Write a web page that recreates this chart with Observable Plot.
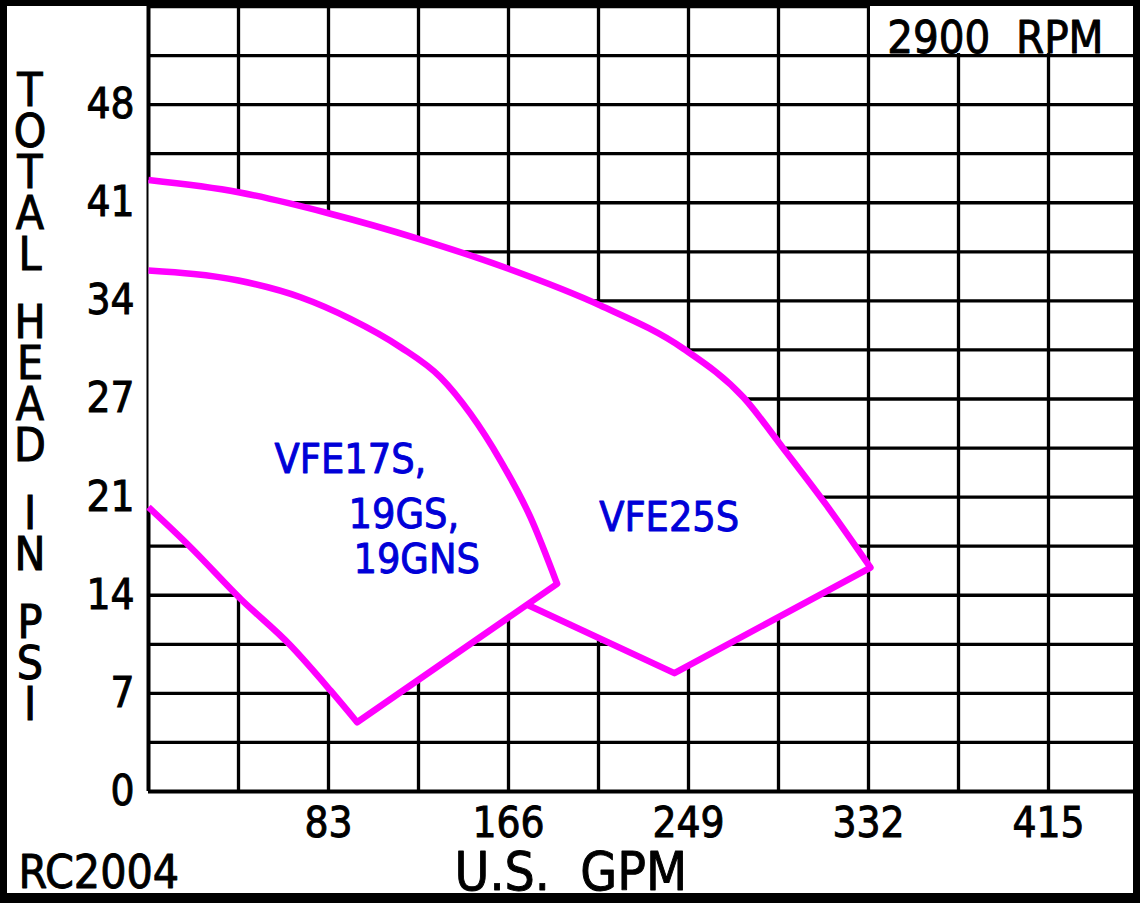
<!DOCTYPE html>
<html><head><meta charset="utf-8">
<script src="https://cdn.jsdelivr.net/npm/d3@7"></script>
<script src="https://cdn.jsdelivr.net/npm/@observablehq/plot@0.6"></script>
<style>
html,body{margin:0;padding:0;background:#fff;}
#wrap{position:relative;width:1140px;height:903px;overflow:hidden;background:#fff;}
#chart{position:absolute;left:0;top:0;}
#frame{position:absolute;left:0;top:0;width:1140px;height:903px;box-sizing:border-box;border:solid #000;border-width:6px 7px 10px 7px;pointer-events:none;}
#ytitle{position:absolute;left:10px;top:70px;width:40px;font-family:"DejaVu Sans Condensed","Liberation Sans Narrow","DejaVu Sans",sans-serif;font-size:46px;color:#000;text-align:center;-webkit-text-stroke:1px #000;}
#ytitle div{height:41px;line-height:41px;}
#ytitle div.sp{height:27px;}
#chart svg g[aria-label$="tick label"] text{stroke:#000;stroke-width:0.9px;}
</style></head><body>
<div id="wrap"><div id="chart"></div><div id="ytitle"></div><div id="frame"></div></div>
<script>
// ---- data ----
const gpmTicks = [83, 166, 249, 332, 415];
const gpmGrid = [0, 41.5, 83, 124.5, 166, 207.5, 249, 290.5, 332, 373.5, 415];
const gpmMax = 456.5;
const psiTickValues = [0, 6.857, 13.714, 20.571, 27.429, 34.286, 41.143, 48];
const psiTickLabels = ["0", "7", "14", "21", "27", "34", "41", "48"];
const psiGrid = [0, 3.429, 6.857, 10.286, 13.714, 17.143, 20.571, 24, 27.429, 30.857, 34.286, 37.714, 41.143, 44.571, 48, 51.429, 54.857];
const psiMax = 54.857;

// VFE25S envelope (GPM, PSI)
const vfe25sTop = [[0, 42.73], [41.5, 41.88], [83, 40.41], [124.5, 38.62], [166, 36.53], [208.4, 33.96], [246.7, 30.94], [274.4, 27.53], [292.4, 24.04], [312.7, 19.99], [332.9, 15.65]];
const vfe25sBottom = [[332.9, 15.65], [242.5, 8.27], [175.4, 13.0]];

// VFE17S, 19GS, 19GNS envelope (GPM, PSI)
const vfe17sTop = [[0, 36.41], [41.5, 35.71], [70.1, 34.54], [93.1, 33.03], [116.2, 31.05], [134.6, 28.95], [148.5, 26.39], [162.3, 23.13], [176.1, 19.17], [188.4, 14.51]];
const vfe17sRight = [[188.4, 14.51], [96.2, 4.84]];
const vfe17sLeft = [[0, 19.87], [19.4, 17.07], [42.4, 13.47], [65.5, 10.20], [83.9, 7.06], [96.2, 4.84]];

const modelLabels = [
  {text: "VFE17S,", gpm: 58.1, psi: 23.2},
  {text: "19GS,", gpm: 92.2, psi: 19.35},
  {text: "19GNS", gpm: 94.5, psi: 16.2},
  {text: "VFE25S", gpm: 207.8, psi: 19.1}
];
const rpmText = "2900\u00a0\u00a0RPM";
const xTitle = "U.S.\u00a0\u00a0GPM";
const yTitle = "TOTAL HEAD IN PSI";
const codeText = "RC2004";

// ---- drawing ----
const FONT = '"DejaVu Sans Condensed", "Liberation Sans Narrow", "DejaVu Sans", sans-serif';
const MAG = "#ff00ff";
const BLUE = "#0000d8";
const X = d => d[0], Y = d => d[1];

const outerFill = [...vfe25sTop, ...vfe25sBottom.slice(1), [188.4, 14.51], ...vfe17sTop.slice().reverse()];
const innerFill = [...vfe17sTop, ...vfe17sRight.slice(1), ...vfe17sLeft.slice(0, -1).reverse()];

const rpmBox = [{x1: gpmGrid[8], x2: gpmMax, y1: psiGrid[15], y2: psiGrid[16]}];
const TS = {stroke: "#000", strokeWidth: 0.9, paintOrder: "normal"};

const chart = Plot.plot({
  width: 1140, height: 903,
  marginLeft: 148, marginRight: 2, marginTop: 6, marginBottom: 112,
  style: {fontFamily: FONT, fontSize: "42px", color: "#000", background: "#fff", overflow: "visible"},
  x: {domain: [0, gpmMax], ticks: gpmTicks, tickSize: 0, tickPadding: 16, label: null, tickFormat: d => String(d)},
  y: {domain: [0, psiMax], ticks: psiTickValues, tickSize: 0, tickPadding: 14, label: null,
      tickFormat: d => psiTickLabels[psiTickValues.indexOf(d)]},
  marks: [
    Plot.ruleX(gpmGrid.slice(1), {stroke: "#000", strokeWidth: 3.3}),
    Plot.ruleY(psiGrid.slice(1), {stroke: "#000", strokeWidth: 3.3}),
    Plot.ruleX([0], {stroke: "#000", strokeWidth: 4}),
    Plot.ruleY([0], {stroke: "#000", strokeWidth: 4}),
    Plot.rect(rpmBox, {x1: "x1", x2: "x2", y1: "y1", y2: "y2", fill: "#fff", insetLeft: 2, insetBottom: 2}),
    // VFE25S
    Plot.line(outerFill, {x: X, y: Y, fill: "#fff", stroke: "none"}),
    Plot.line(vfe25sTop, {x: X, y: Y, curve: "monotone-x", stroke: MAG, strokeWidth: 6.5, strokeLinecap: "butt"}),
    Plot.line(vfe25sBottom, {x: X, y: Y, stroke: MAG, strokeWidth: 6.5, strokeLinecap: "round", strokeLinejoin: "round"}),
    // VFE17S
    Plot.line(innerFill, {x: X, y: Y, fill: "#fff", stroke: "none"}),
    Plot.line(vfe17sTop, {x: X, y: Y, curve: "monotone-x", stroke: MAG, strokeWidth: 6.5, strokeLinecap: "butt"}),
    Plot.line(vfe17sRight, {x: X, y: Y, stroke: MAG, strokeWidth: 6.5, strokeLinecap: "round"}),
    Plot.line(vfe17sLeft, {x: X, y: Y, curve: "monotone-x", stroke: MAG, strokeWidth: 6.5, strokeLinecap: "butt"}),
    // labels
    Plot.text(modelLabels, {x: "gpm", y: "psi", text: "text", textAnchor: "start", lineAnchor: "middle", fill: BLUE, fontSize: 41, stroke: BLUE, strokeWidth: 0.9, paintOrder: "normal"}),
    Plot.text([rpmText], {text: d => d, frameAnchor: "top-right", dx: -35, dy: 46, textAnchor: "end", lineAnchor: "bottom", fontSize: 45, fill: "#000", ...TS}),
    Plot.text([xTitle], {text: d => d, frameAnchor: "bottom-left", dx: 306, dy: 98, textAnchor: "start", lineAnchor: "bottom", fontSize: 53, fill: "#000", ...TS}),
    Plot.text([codeText], {text: d => d, frameAnchor: "bottom-left", dx: -130, dy: 96, textAnchor: "start", lineAnchor: "bottom", fontSize: 46, fill: "#000", ...TS})
  ]
});
document.getElementById("chart").appendChild(chart);

const yt = document.getElementById("ytitle");
for (const ch of yTitle) {
  const d = document.createElement("div");
  if (ch === " ") { d.className = "sp"; d.innerHTML = "&nbsp;"; } else d.textContent = ch;
  yt.appendChild(d);
}
</script>
</body></html>
